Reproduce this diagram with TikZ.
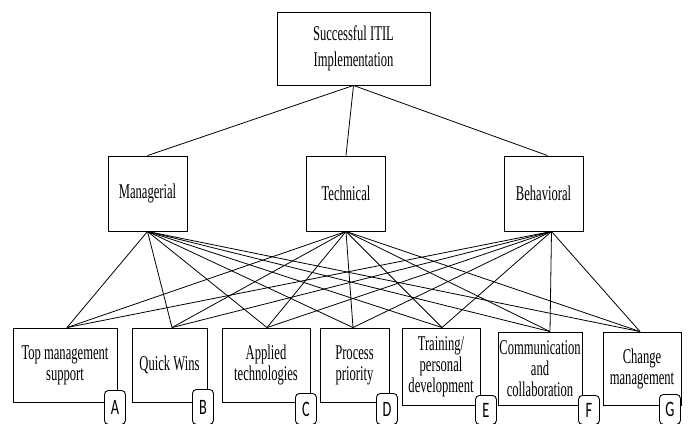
\documentclass[tikz,border=0pt]{standalone}
\usepackage{fontspec}
\setmainfont{Liberation Serif}[FakeStretch=0.6]
\newfontfamily\tagfont{Carlito}[FakeStretch=0.65]
\tikzset{
  box/.style={
    rectangle,
    draw=black, line width=0.9pt,
    fill=white,
    inner sep=1pt,
    align=center,
    font=\fontsize{21}{21}\selectfont},
  goal/.style={box, minimum width=153pt, minimum height=73pt,
    font=\fontsize{21}{26}\selectfont},
  group/.style={box, minimum width=79pt, minimum height=75pt},
  factor/.style={box, minimum height=74pt},
  tag/.style={
    rectangle,
    rounded corners=4pt,
    draw=black, line width=0.9pt,
    fill=white,
    minimum width=21pt,
    inner sep=0pt,
    anchor=north west,
    font=\tagfont\fontsize{22}{22}\selectfont},
  link/.style={draw, line width=0.8pt},
}
\begin{document}
\begin{tikzpicture}[x=1pt,y=-1pt]
\useasboundingbox (0,0) rectangle (688,423);
\clip (0,0) rectangle (688,423);
% goal and the three groups
\node[goal] (goal) at (353.5,48.5) {Successful ITIL\\Implementation};
\node[group] (mgr) at (147.5,193.5) {Managerial};
\node[group] (tech) at (346,193.5) {Technical};
\node[group] (beh) at (543.5,193.5) {Behavioral};
% success factors
\node[factor, minimum width=104pt] (A) at (65,365) {Top management\\support};
\node[factor, minimum width=75pt] (B) at (169.5,365) {Quick Wins};
\node[factor, minimum width=88pt] (C) at (266,365) {Applied\\technologies};
\node[factor, minimum width=69pt] (D) at (354.5,365) {Process\\priority};
\node[factor, minimum width=78pt, minimum height=77pt] (E) at (441,366.5) {Training/\\personal\\development};
\node[factor, minimum width=84pt, minimum height=73pt] (F) at (540,368.5) {Communication\\and\\collaboration};
\node[factor, minimum width=78pt, minimum height=73pt] (G) at (642,368.5) {Change\\management};
% goal to groups
\coordinate (beh-top) at ([xshift=4pt]beh.north);
\draw[link] (goal.south) -- (mgr.north);
\draw[link] (goal.south) -- (tech.north);
\draw[link] (goal.south) -- (beh-top);
% groups to factors
\coordinate (mgr-out) at (mgr.south);
\coordinate (tech-out) at (tech.south);
\coordinate (beh-out) at ([xshift=8pt]beh.south);
\foreach \l/\dx in {A/2,B/2.5,C/1,D/-1.5,E/1,F/10,G/-2}
  \coordinate (\l-in) at ([xshift=\dx pt]\l.north);
\foreach \g in {mgr-out,tech-out,beh-out}{
  \foreach \l in {A,B,C,D,E,F,G}
    \draw[link] (\g) -- (\l-in);
}
% letter tags, running off the bottom edge
\foreach \l/\x/\y in {A/104/390,B/192/389,C/295/393,D/376/393,E/475/395,F/578/395,G/659/394}
  \node[tag, minimum height=424pt-\y pt] (tag\l) at (\x,\y) {\l};
\end{tikzpicture}
\end{document}
